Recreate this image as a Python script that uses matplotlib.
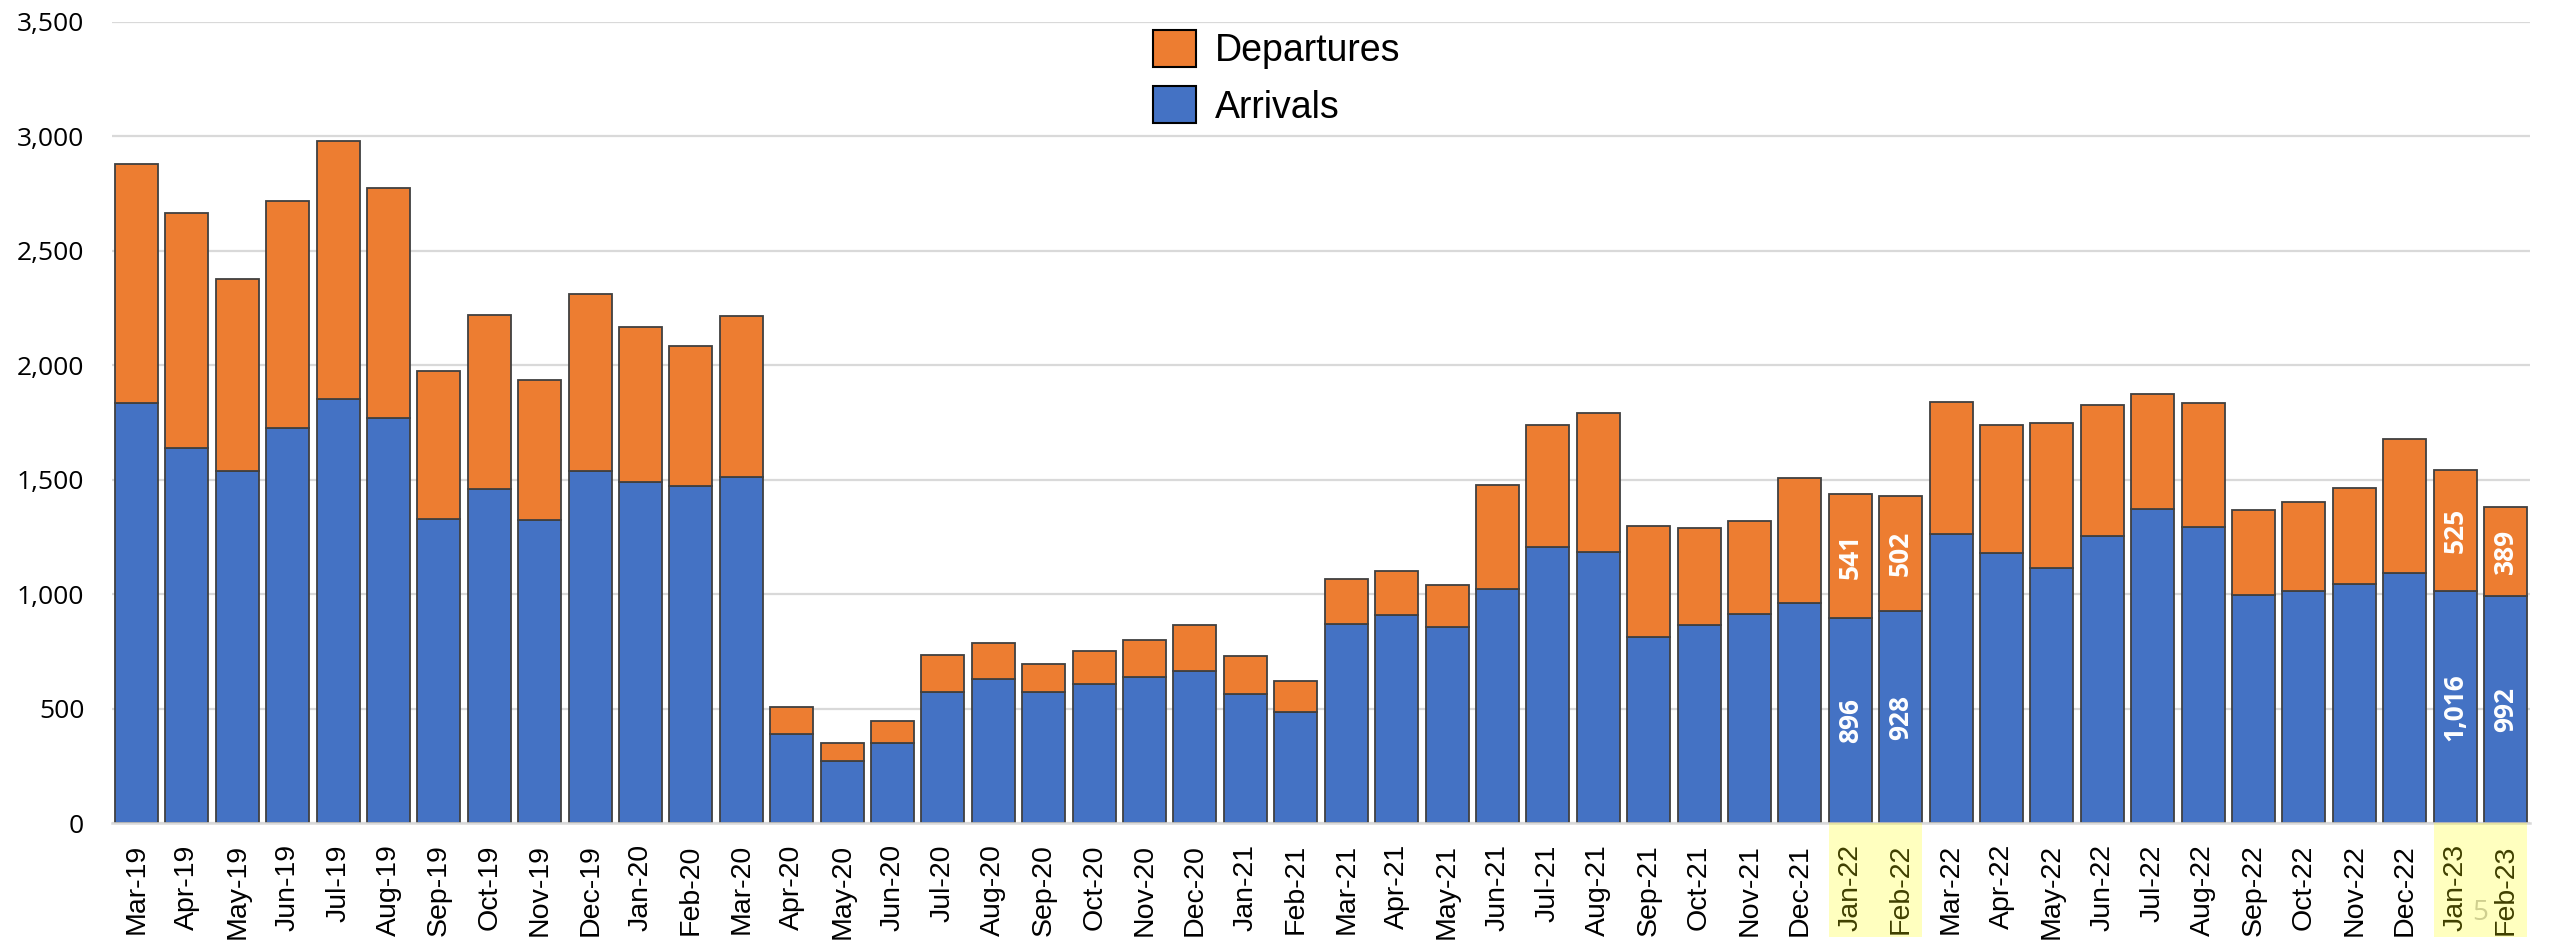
import matplotlib
matplotlib.use("Agg")
import matplotlib.pyplot as plt
import matplotlib.transforms as mtransforms
from matplotlib.patches import Rectangle
import numpy as np

months = ["Mar-19", "Apr-19", "May-19", "Jun-19", "Jul-19", "Aug-19", "Sep-19", "Oct-19",
          "Nov-19", "Dec-19", "Jan-20", "Feb-20", "Mar-20", "Apr-20", "May-20", "Jun-20",
          "Jul-20", "Aug-20", "Sep-20", "Oct-20", "Nov-20", "Dec-20", "Jan-21", "Feb-21",
          "Mar-21", "Apr-21", "May-21", "Jun-21", "Jul-21", "Aug-21", "Sep-21", "Oct-21",
          "Nov-21", "Dec-21", "Jan-22", "Feb-22", "Mar-22", "Apr-22", "May-22", "Jun-22",
          "Jul-22", "Aug-22", "Sep-22", "Oct-22", "Nov-22", "Dec-22", "Jan-23", "Feb-23"]

arrivals = [1835, 1639, 1537, 1726, 1854, 1770, 1330, 1460, 1326, 1540, 1489, 1472,
            1512, 390, 274, 351, 573, 630, 573, 609, 637, 666, 566, 488,
            872, 908, 858, 1022, 1207, 1185, 815, 865, 913, 962, 896, 928,
            1262, 1180, 1115, 1256, 1373, 1296, 999, 1013, 1046, 1094, 1016, 992]

departures = [1043, 1027, 842, 994, 1127, 1004, 646, 762, 612, 774, 679, 613,
              702, 120, 76, 95, 164, 157, 121, 142, 164, 199, 164, 135,
              193, 192, 185, 456, 534, 606, 485, 427, 408, 546, 541, 502,
              579, 561, 633, 570, 503, 538, 369, 390, 418, 583, 525, 389]

# months that get value labels and a yellow highlight
labelled = ["Jan-22", "Feb-22", "Jan-23", "Feb-23"]
highlight_pairs = [("Jan-22", "Feb-22"), ("Jan-23", "Feb-23")]

BLUE = "#4472C4"
ORANGE = "#ED7D31"
EDGE = "#404040"
GRID = "#D9D9D9"

fig = plt.figure(figsize=(25.6, 9.43), dpi=100)
ax = fig.add_axes([112 / 2560, 1 - 823.3 / 943, (2530 - 112) / 2560, (823.3 - 22) / 943])

x = np.arange(len(months))
width = 0.853
bars_arr = ax.bar(x, arrivals, width, color=BLUE, edgecolor=EDGE, linewidth=1.3,
                  label="Arrivals", zorder=3)
bars_dep = ax.bar(x, departures, width, bottom=arrivals, color=ORANGE, edgecolor=EDGE,
                  linewidth=1.3, label="Departures", zorder=3)

# value labels inside the highlighted bars
for m in labelled:
    i = months.index(m)
    a = arrivals[i]
    d = departures[i]
    ax.text(i, a / 2, f"{a:,}", rotation=90, ha="center", va="center", color="white",
            fontsize=19, fontweight="bold", family=["Open Sans", "DejaVu Sans"], zorder=5)
    ax.text(i, a + d / 2, f"{d:,}", rotation=90, ha="center", va="center", color="white",
            fontsize=19, fontweight="bold", family=["Open Sans", "DejaVu Sans"], zorder=5)

ax.set_xlim(-0.486, len(months) - 1 + 0.486)
ax.set_ylim(0, 3500)
ax.set_yticks(np.arange(0, 3501, 500))
ax.yaxis.set_major_formatter(matplotlib.ticker.FuncFormatter(lambda v, p: f"{int(v):,}"))
ax.set_xticks(x)
ax.set_xticklabels(months, rotation=90, fontsize=20.5, family=["Liberation Sans", "DejaVu Sans"])
for lab in ax.get_yticklabels():
    lab.set_fontsize(19)
    lab.set_family(["Open Sans", "DejaVu Sans"])
ax.tick_params(axis="x", length=0, pad=15)
ax.tick_params(axis="y", length=0, pad=20)

ax.grid(axis="y", color=GRID, linewidth=1.6, zorder=0)
ax.set_axisbelow(True)
for side in ["top", "right", "left"]:
    ax.spines[side].set_visible(False)
ax.spines["bottom"].set_color(GRID)
ax.spines["bottom"].set_linewidth(1.8)
ax.spines["bottom"].set_zorder(4)

handles = [bars_dep, bars_arr]
leg = fig.legend(handles, ["Departures", "Arrivals"], loc="upper left",
                 bbox_to_anchor=(1153 / 2560, 1 - 30 / 943), frameon=False,
                 prop={"family": ["Liberation Sans", "DejaVu Sans"], "size": 27},
                 handlelength=1.15, handleheight=1.15, handletextpad=0.5,
                 labelspacing=0.45, borderpad=0, borderaxespad=0)
for h in leg.legend_handles:
    h.set_edgecolor("black")
    h.set_linewidth(1.5)

# slide number
fig.text(2480 / 2560, 1 - 913 / 943, "5", ha="center", va="center", fontsize=20,
         color="#BFBFBF", family=["Open Sans", "DejaVu Sans"])

# yellow highlight over the x labels
trans = mtransforms.blended_transform_factory(ax.transData, fig.transFigure)
for first, last in highlight_pairs:
    i0 = months.index(first)
    i1 = months.index(last)
    rect = Rectangle((i0 - width / 2, 6 / 943), (i1 - i0) + width, 1 - 823.3 / 943 - 6 / 943,
                     transform=trans, facecolor=(1, 1, 0, 0.25), edgecolor="none",
                     zorder=10, clip_on=False)
    fig.add_artist(rect)

fig.savefig("out.png", dpi=100)
